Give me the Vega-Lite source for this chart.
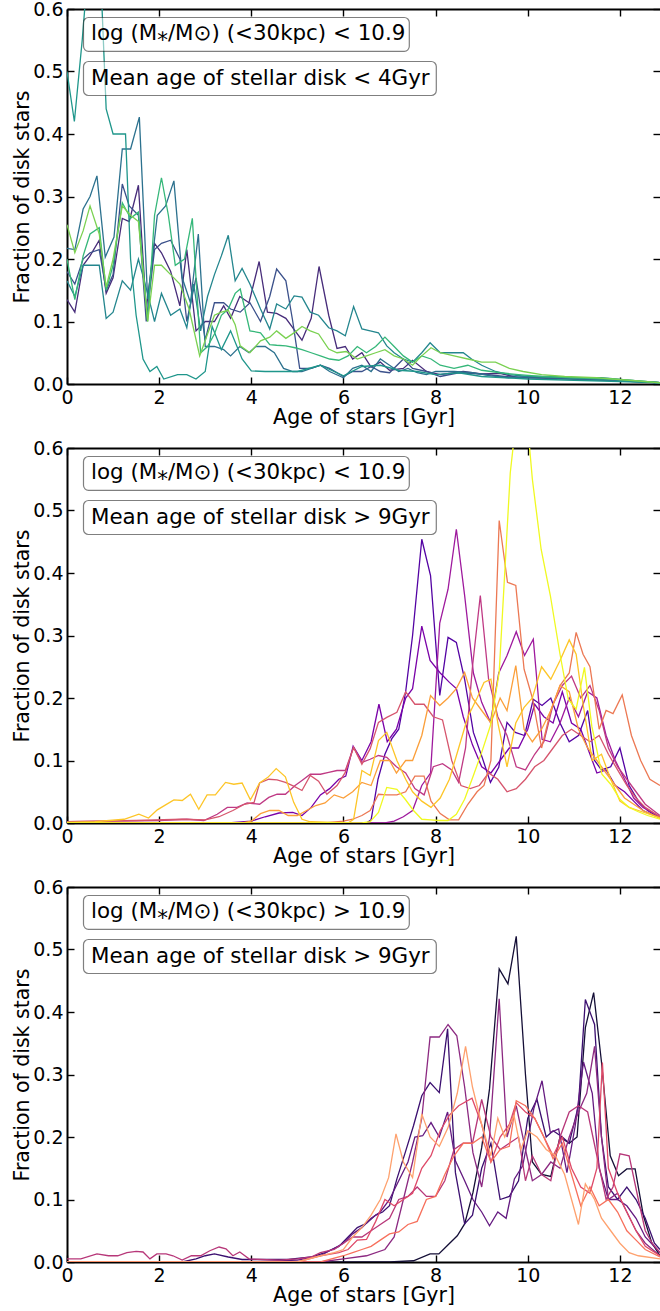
{
"$schema": "https://vega.github.io/schema/vega-lite/v6.json",
"padding": {"left": 12, "top": 0, "right": 0, "bottom": 0},
"spacing": 64,
"bounds": "flush",
"config": {
  "font": "DejaVu Sans",
  "view": {"stroke": null},
  "axis": {"grid": false, "domainColor": "black", "domainWidth": 2, "tickColor": "black", "tickWidth": 1.4, "tickSize": -7, "labelFontSize": 19, "labelColor": "black", "labelFlush": false, "labelOverlap": false, "labelPadding": 11, "titleFontSize": 20.5, "titleFontWeight": "normal", "titleColor": "black"}
},
"resolve": {"scale": {"color": "independent"}},
"datasets": {
"p1": [
{"s":"a","age":0,"frac":0.135},{"s":"a","age":0.17,"frac":0.115},{"s":"a","age":0.35,"frac":0.19},{"s":"a","age":0.5,"frac":0.205},{"s":"a","age":0.7,"frac":0.23},{"s":"a","age":0.85,"frac":0.145},{"s":"a","age":1.0,"frac":0.17},{"s":"a","age":1.2,"frac":0.265},{"s":"a","age":1.35,"frac":0.26},{"s":"a","age":1.55,"frac":0.318},{"s":"a","age":1.72,"frac":0.12},{"s":"a","age":1.9,"frac":0.225},{"s":"a","age":2.05,"frac":0.21},{"s":"a","age":2.25,"frac":0.18},{"s":"a","age":2.45,"frac":0.125},{"s":"a","age":2.6,"frac":0.215},{"s":"a","age":2.8,"frac":0.085},{"s":"a","age":3.0,"frac":0.1},{"s":"a","age":3.2,"frac":0.1},{"s":"a","age":3.4,"frac":0.125},{"s":"a","age":3.55,"frac":0.105},{"s":"a","age":3.75,"frac":0.14},{"s":"a","age":3.95,"frac":0.13},{"s":"a","age":4.17,"frac":0.196},{"s":"a","age":4.35,"frac":0.115},{"s":"a","age":4.55,"frac":0.113},{"s":"a","age":4.75,"frac":0.105},{"s":"a","age":4.95,"frac":0.085},{"s":"a","age":5.1,"frac":0.07},{"s":"a","age":5.3,"frac":0.105},{"s":"a","age":5.47,"frac":0.188},{"s":"a","age":5.68,"frac":0.11},{"s":"a","age":5.86,"frac":0.057},{"s":"a","age":6.04,"frac":0.06},{"s":"a","age":6.2,"frac":0.04},{"s":"a","age":6.4,"frac":0.05},{"s":"a","age":6.6,"frac":0.027},{"s":"a","age":6.8,"frac":0.035},{"s":"a","age":7.0,"frac":0.022},{"s":"a","age":7.3,"frac":0.025},{"s":"a","age":7.5,"frac":0.038},{"s":"a","age":7.8,"frac":0.02},{"s":"a","age":8.1,"frac":0.015},{"s":"a","age":8.6,"frac":0.02},{"s":"a","age":9.0,"frac":0.016},{"s":"a","age":9.4,"frac":0.017},{"s":"a","age":9.8,"frac":0.01},{"s":"a","age":10.4,"frac":0.01},{"s":"a","age":11.2,"frac":0.007},{"s":"a","age":12.0,"frac":0.005},{"s":"a","age":12.87,"frac":0.002},
{"s":"b","age":0,"frac":0.18},{"s":"b","age":0.17,"frac":0.16},{"s":"b","age":0.35,"frac":0.2},{"s":"b","age":0.5,"frac":0.21},{"s":"b","age":0.7,"frac":0.215},{"s":"b","age":0.85,"frac":0.15},{"s":"b","age":1.0,"frac":0.175},{"s":"b","age":1.2,"frac":0.32},{"s":"b","age":1.35,"frac":0.285},{"s":"b","age":1.55,"frac":0.27},{"s":"b","age":1.72,"frac":0.1},{"s":"b","age":1.9,"frac":0.215},{"s":"b","age":2.05,"frac":0.225},{"s":"b","age":2.25,"frac":0.23},{"s":"b","age":2.45,"frac":0.2},{"s":"b","age":2.6,"frac":0.1},{"s":"b","age":2.8,"frac":0.17},{"s":"b","age":3.0,"frac":0.07},{"s":"b","age":3.2,"frac":0.13},{"s":"b","age":3.4,"frac":0.13},{"s":"b","age":3.55,"frac":0.12},{"s":"b","age":3.76,"frac":0.115},{"s":"b","age":3.97,"frac":0.13},{"s":"b","age":4.2,"frac":0.1},{"s":"b","age":4.4,"frac":0.14},{"s":"b","age":4.55,"frac":0.184},{"s":"b","age":4.75,"frac":0.165},{"s":"b","age":4.9,"frac":0.1},{"s":"b","age":5.05,"frac":0.025},{"s":"b","age":5.3,"frac":0.025},{"s":"b","age":5.5,"frac":0.03},{"s":"b","age":5.7,"frac":0.025},{"s":"b","age":6.0,"frac":0.012},{"s":"b","age":6.2,"frac":0.02},{"s":"b","age":6.4,"frac":0.02},{"s":"b","age":6.6,"frac":0.028},{"s":"b","age":6.8,"frac":0.02},{"s":"b","age":7.0,"frac":0.018},{"s":"b","age":7.3,"frac":0.04},{"s":"b","age":7.5,"frac":0.025},{"s":"b","age":7.8,"frac":0.02},{"s":"b","age":8.1,"frac":0.012},{"s":"b","age":8.5,"frac":0.018},{"s":"b","age":9.0,"frac":0.016},{"s":"b","age":9.5,"frac":0.012},{"s":"b","age":10.0,"frac":0.01},{"s":"b","age":11.0,"frac":0.008},{"s":"b","age":12.0,"frac":0.005},{"s":"b","age":12.87,"frac":0.002},
{"s":"c","age":0,"frac":0.217},{"s":"c","age":0.17,"frac":0.215},{"s":"c","age":0.35,"frac":0.28},{"s":"c","age":0.5,"frac":0.3},{"s":"c","age":0.65,"frac":0.333},{"s":"c","age":0.83,"frac":0.203},{"s":"c","age":1.02,"frac":0.235},{"s":"c","age":1.2,"frac":0.376},{"s":"c","age":1.38,"frac":0.376},{"s":"c","age":1.57,"frac":0.427},{"s":"c","age":1.75,"frac":0.136},{"s":"c","age":1.96,"frac":0.27},{"s":"c","age":2.14,"frac":0.285},{"s":"c","age":2.32,"frac":0.325},{"s":"c","age":2.5,"frac":0.17},{"s":"c","age":2.68,"frac":0.13},{"s":"c","age":2.85,"frac":0.24},{"s":"c","age":3.0,"frac":0.06},{"s":"c","age":3.2,"frac":0.06},{"s":"c","age":3.4,"frac":0.055},{"s":"c","age":3.55,"frac":0.045},{"s":"c","age":3.75,"frac":0.06},{"s":"c","age":3.95,"frac":0.05},{"s":"c","age":4.1,"frac":0.06},{"s":"c","age":4.3,"frac":0.06},{"s":"c","age":4.5,"frac":0.05},{"s":"c","age":4.7,"frac":0.025},{"s":"c","age":4.9,"frac":0.02},{"s":"c","age":5.1,"frac":0.02},{"s":"c","age":5.3,"frac":0.025},{"s":"c","age":5.5,"frac":0.03},{"s":"c","age":5.7,"frac":0.02},{"s":"c","age":6.0,"frac":0.01},{"s":"c","age":6.2,"frac":0.025},{"s":"c","age":6.4,"frac":0.03},{"s":"c","age":6.6,"frac":0.02},{"s":"c","age":6.8,"frac":0.04},{"s":"c","age":7.0,"frac":0.03},{"s":"c","age":7.2,"frac":0.02},{"s":"c","age":7.4,"frac":0.025},{"s":"c","age":7.6,"frac":0.018},{"s":"c","age":7.8,"frac":0.015},{"s":"c","age":8.0,"frac":0.02},{"s":"c","age":8.4,"frac":0.02},{"s":"c","age":8.8,"frac":0.018},{"s":"c","age":9.2,"frac":0.013},{"s":"c","age":9.6,"frac":0.01},{"s":"c","age":10.0,"frac":0.012},{"s":"c","age":10.6,"frac":0.01},{"s":"c","age":11.4,"frac":0.008},{"s":"c","age":12.2,"frac":0.005},{"s":"c","age":12.87,"frac":0.002},
{"s":"d","age":0,"frac":0.165},{"s":"d","age":0.17,"frac":0.14},{"s":"d","age":0.35,"frac":0.19},{"s":"d","age":0.5,"frac":0.19},{"s":"d","age":0.7,"frac":0.19},{"s":"d","age":0.85,"frac":0.105},{"s":"d","age":1.0,"frac":0.115},{"s":"d","age":1.2,"frac":0.165},{"s":"d","age":1.38,"frac":0.15},{"s":"d","age":1.55,"frac":0.2},{"s":"d","age":1.75,"frac":0.145},{"s":"d","age":1.9,"frac":0.1},{"s":"d","age":2.05,"frac":0.145},{"s":"d","age":2.25,"frac":0.11},{"s":"d","age":2.45,"frac":0.12},{"s":"d","age":2.6,"frac":0.09},{"s":"d","age":2.75,"frac":0.16},{"s":"d","age":2.9,"frac":0.085},{"s":"d","age":3.05,"frac":0.14},{"s":"d","age":3.2,"frac":0.175},{"s":"d","age":3.35,"frac":0.205},{"s":"d","age":3.5,"frac":0.238},{"s":"d","age":3.65,"frac":0.165},{"s":"d","age":3.8,"frac":0.185},{"s":"d","age":3.97,"frac":0.16},{"s":"d","age":4.2,"frac":0.12},{"s":"d","age":4.4,"frac":0.088},{"s":"d","age":4.55,"frac":0.128},{"s":"d","age":4.75,"frac":0.12},{"s":"d","age":4.93,"frac":0.141},{"s":"d","age":5.1,"frac":0.139},{"s":"d","age":5.28,"frac":0.115},{"s":"d","age":5.46,"frac":0.11},{"s":"d","age":5.68,"frac":0.09},{"s":"d","age":5.86,"frac":0.085},{"s":"d","age":6.04,"frac":0.077},{"s":"d","age":6.22,"frac":0.124},{"s":"d","age":6.4,"frac":0.088},{"s":"d","age":6.58,"frac":0.085},{"s":"d","age":6.76,"frac":0.082},{"s":"d","age":6.94,"frac":0.061},{"s":"d","age":7.1,"frac":0.05},{"s":"d","age":7.3,"frac":0.04},{"s":"d","age":7.5,"frac":0.035},{"s":"d","age":7.7,"frac":0.05},{"s":"d","age":7.88,"frac":0.066},{"s":"d","age":8.1,"frac":0.05},{"s":"d","age":8.4,"frac":0.05},{"s":"d","age":8.6,"frac":0.05},{"s":"d","age":8.78,"frac":0.04},{"s":"d","age":9.0,"frac":0.03},{"s":"d","age":9.3,"frac":0.02},{"s":"d","age":9.6,"frac":0.015},{"s":"d","age":10.0,"frac":0.012},{"s":"d","age":10.5,"frac":0.012},{"s":"d","age":11.0,"frac":0.01},{"s":"d","age":11.6,"frac":0.01},{"s":"d","age":12.2,"frac":0.006},{"s":"d","age":12.87,"frac":0.002},
{"s":"e","age":0,"frac":0.5},{"s":"e","age":0.16,"frac":0.42},{"s":"e","age":0.33,"frac":0.55},{"s":"e","age":0.45,"frac":0.66},{"s":"e","age":0.6,"frac":0.75},{"s":"e","age":0.75,"frac":0.62},{"s":"e","age":0.85,"frac":0.44},{"s":"e","age":1.0,"frac":0.4},{"s":"e","age":1.2,"frac":0.4},{"s":"e","age":1.27,"frac":0.4},{"s":"e","age":1.38,"frac":0.2},{"s":"e","age":1.5,"frac":0.11},{"s":"e","age":1.65,"frac":0.04},{"s":"e","age":1.8,"frac":0.02},{"s":"e","age":1.95,"frac":0.028},{"s":"e","age":2.1,"frac":0.008},{"s":"e","age":2.4,"frac":0.015},{"s":"e","age":2.6,"frac":0.015},{"s":"e","age":2.8,"frac":0.008},{"s":"e","age":3.0,"frac":0.02},{"s":"e","age":3.15,"frac":0.092},{"s":"e","age":3.35,"frac":0.055},{"s":"e","age":3.55,"frac":0.085},{"s":"e","age":3.8,"frac":0.04},{"s":"e","age":4.0,"frac":0.021},{"s":"e","age":4.3,"frac":0.02},{"s":"e","age":4.7,"frac":0.02},{"s":"e","age":5.0,"frac":0.02},{"s":"e","age":5.5,"frac":0.03},{"s":"e","age":6.0,"frac":0.013},{"s":"e","age":6.4,"frac":0.028},{"s":"e","age":6.8,"frac":0.03},{"s":"e","age":7.2,"frac":0.022},{"s":"e","age":7.6,"frac":0.02},{"s":"e","age":8.0,"frac":0.015},{"s":"e","age":8.5,"frac":0.018},{"s":"e","age":9.0,"frac":0.012},{"s":"e","age":10.0,"frac":0.008},{"s":"e","age":11.0,"frac":0.006},{"s":"e","age":12.0,"frac":0.004},{"s":"e","age":12.87,"frac":0.002},
{"s":"f","age":0,"frac":0.2},{"s":"f","age":0.17,"frac":0.135},{"s":"f","age":0.35,"frac":0.205},{"s":"f","age":0.5,"frac":0.24},{"s":"f","age":0.7,"frac":0.25},{"s":"f","age":0.85,"frac":0.15},{"s":"f","age":1.0,"frac":0.19},{"s":"f","age":1.2,"frac":0.29},{"s":"f","age":1.38,"frac":0.265},{"s":"f","age":1.55,"frac":0.275},{"s":"f","age":1.75,"frac":0.1},{"s":"f","age":1.9,"frac":0.27},{"s":"f","age":2.05,"frac":0.33},{"s":"f","age":2.2,"frac":0.27},{"s":"f","age":2.35,"frac":0.19},{"s":"f","age":2.55,"frac":0.2},{"s":"f","age":2.72,"frac":0.265},{"s":"f","age":2.9,"frac":0.05},{"s":"f","age":3.05,"frac":0.06},{"s":"f","age":3.2,"frac":0.08},{"s":"f","age":3.35,"frac":0.11},{"s":"f","age":3.5,"frac":0.12},{"s":"f","age":3.65,"frac":0.145},{"s":"f","age":3.76,"frac":0.152},{"s":"f","age":3.97,"frac":0.085},{"s":"f","age":4.2,"frac":0.082},{"s":"f","age":4.4,"frac":0.063},{"s":"f","age":4.55,"frac":0.062},{"s":"f","age":4.75,"frac":0.061},{"s":"f","age":4.95,"frac":0.058},{"s":"f","age":5.1,"frac":0.055},{"s":"f","age":5.3,"frac":0.05},{"s":"f","age":5.5,"frac":0.045},{"s":"f","age":5.7,"frac":0.04},{"s":"f","age":5.9,"frac":0.038},{"s":"f","age":6.1,"frac":0.045},{"s":"f","age":6.3,"frac":0.06},{"s":"f","age":6.5,"frac":0.05},{"s":"f","age":6.7,"frac":0.06},{"s":"f","age":6.9,"frac":0.075},{"s":"f","age":7.1,"frac":0.06},{"s":"f","age":7.3,"frac":0.045},{"s":"f","age":7.5,"frac":0.035},{"s":"f","age":7.7,"frac":0.045},{"s":"f","age":7.9,"frac":0.04},{"s":"f","age":8.1,"frac":0.03},{"s":"f","age":8.4,"frac":0.025},{"s":"f","age":8.7,"frac":0.03},{"s":"f","age":9.0,"frac":0.022},{"s":"f","age":9.4,"frac":0.018},{"s":"f","age":9.8,"frac":0.015},{"s":"f","age":10.3,"frac":0.012},{"s":"f","age":11.0,"frac":0.01},{"s":"f","age":11.8,"frac":0.008},{"s":"f","age":12.4,"frac":0.005},{"s":"f","age":12.87,"frac":0.002},
{"s":"g","age":0,"frac":0.255},{"s":"g","age":0.17,"frac":0.21},{"s":"g","age":0.35,"frac":0.245},{"s":"g","age":0.5,"frac":0.285},{"s":"g","age":0.7,"frac":0.24},{"s":"g","age":0.85,"frac":0.155},{"s":"g","age":1.0,"frac":0.2},{"s":"g","age":1.2,"frac":0.285},{"s":"g","age":1.38,"frac":0.27},{"s":"g","age":1.55,"frac":0.26},{"s":"g","age":1.75,"frac":0.1},{"s":"g","age":1.9,"frac":0.19},{"s":"g","age":2.05,"frac":0.19},{"s":"g","age":2.25,"frac":0.175},{"s":"g","age":2.45,"frac":0.16},{"s":"g","age":2.65,"frac":0.12},{"s":"g","age":2.88,"frac":0.045},{"s":"g","age":3.05,"frac":0.08},{"s":"g","age":3.2,"frac":0.11},{"s":"g","age":3.35,"frac":0.115},{"s":"g","age":3.5,"frac":0.118},{"s":"g","age":3.65,"frac":0.095},{"s":"g","age":3.76,"frac":0.061},{"s":"g","age":3.97,"frac":0.05},{"s":"g","age":4.2,"frac":0.069},{"s":"g","age":4.4,"frac":0.075},{"s":"g","age":4.55,"frac":0.085},{"s":"g","age":4.75,"frac":0.073},{"s":"g","age":4.95,"frac":0.083},{"s":"g","age":5.1,"frac":0.092},{"s":"g","age":5.28,"frac":0.085},{"s":"g","age":5.46,"frac":0.08},{"s":"g","age":5.68,"frac":0.056},{"s":"g","age":5.86,"frac":0.05},{"s":"g","age":6.06,"frac":0.052},{"s":"g","age":6.3,"frac":0.04},{"s":"g","age":6.5,"frac":0.045},{"s":"g","age":6.7,"frac":0.05},{"s":"g","age":6.9,"frac":0.055},{"s":"g","age":7.1,"frac":0.045},{"s":"g","age":7.3,"frac":0.04},{"s":"g","age":7.5,"frac":0.03},{"s":"g","age":7.7,"frac":0.045},{"s":"g","age":7.9,"frac":0.058},{"s":"g","age":8.1,"frac":0.05},{"s":"g","age":8.4,"frac":0.045},{"s":"g","age":8.7,"frac":0.04},{"s":"g","age":9.0,"frac":0.035},{"s":"g","age":9.3,"frac":0.035},{"s":"g","age":9.6,"frac":0.025},{"s":"g","age":9.9,"frac":0.02},{"s":"g","age":10.3,"frac":0.015},{"s":"g","age":10.8,"frac":0.012},{"s":"g","age":11.5,"frac":0.01},{"s":"g","age":12.2,"frac":0.006},{"s":"g","age":12.87,"frac":0.002}
],
"p2": [
{"s":"h","age":0,"frac":0},{"s":"h","age":6.5,"frac":0},{"s":"h","age":6.6,"frac":0.005},{"s":"h","age":6.75,"frac":0.07},{"s":"h","age":6.9,"frac":0.11},{"s":"h","age":7.05,"frac":0.135},{"s":"h","age":7.2,"frac":0.15},{"s":"h","age":7.35,"frac":0.21},{"s":"h","age":7.5,"frac":0.3},{"s":"h","age":7.7,"frac":0.454},{"s":"h","age":7.89,"frac":0.396},{"s":"h","age":8.09,"frac":0.204},{"s":"h","age":8.27,"frac":0.297},{"s":"h","age":8.45,"frac":0.289},{"s":"h","age":8.63,"frac":0.23},{"s":"h","age":8.82,"frac":0.145},{"s":"h","age":9.01,"frac":0.105},{"s":"h","age":9.19,"frac":0.065},{"s":"h","age":9.37,"frac":0.089},{"s":"h","age":9.55,"frac":0.161},{"s":"h","age":9.73,"frac":0.145},{"s":"h","age":9.93,"frac":0.14},{"s":"h","age":10.12,"frac":0.198},{"s":"h","age":10.31,"frac":0.188},{"s":"h","age":10.5,"frac":0.2},{"s":"h","age":10.7,"frac":0.16},{"s":"h","age":10.9,"frac":0.13},{"s":"h","age":11.1,"frac":0.14},{"s":"h","age":11.3,"frac":0.18},{"s":"h","age":11.45,"frac":0.1},{"s":"h","age":11.6,"frac":0.085},{"s":"h","age":11.8,"frac":0.09},{"s":"h","age":12.0,"frac":0.12},{"s":"h","age":12.2,"frac":0.06},{"s":"h","age":12.4,"frac":0.035},{"s":"h","age":12.6,"frac":0.02},{"s":"h","age":12.87,"frac":0.008},
{"s":"i","age":0,"frac":0},{"s":"i","age":3.5,"frac":0},{"s":"i","age":4.0,"frac":0.003},{"s":"i","age":4.3,"frac":0.01},{"s":"i","age":4.6,"frac":0.016},{"s":"i","age":4.9,"frac":0.017},{"s":"i","age":5.1,"frac":0.012},{"s":"i","age":5.3,"frac":0.025},{"s":"i","age":5.5,"frac":0.045},{"s":"i","age":5.7,"frac":0.055},{"s":"i","age":5.9,"frac":0.07},{"s":"i","age":6.05,"frac":0.075},{"s":"i","age":6.21,"frac":0.123},{"s":"i","age":6.4,"frac":0.1},{"s":"i","age":6.6,"frac":0.13},{"s":"i","age":6.77,"frac":0.19},{"s":"i","age":6.95,"frac":0.13},{"s":"i","age":7.15,"frac":0.15},{"s":"i","age":7.35,"frac":0.2},{"s":"i","age":7.5,"frac":0.215},{"s":"i","age":7.7,"frac":0.315},{"s":"i","age":7.88,"frac":0.26},{"s":"i","age":8.1,"frac":0.24},{"s":"i","age":8.3,"frac":0.225},{"s":"i","age":8.45,"frac":0.215},{"s":"i","age":8.6,"frac":0.17},{"s":"i","age":8.8,"frac":0.125},{"s":"i","age":9.0,"frac":0.09},{"s":"i","age":9.2,"frac":0.08},{"s":"i","age":9.4,"frac":0.1},{"s":"i","age":9.6,"frac":0.12},{"s":"i","age":9.8,"frac":0.12},{"s":"i","age":10.0,"frac":0.15},{"s":"i","age":10.15,"frac":0.19},{"s":"i","age":10.35,"frac":0.17},{"s":"i","age":10.55,"frac":0.16},{"s":"i","age":10.75,"frac":0.21},{"s":"i","age":10.95,"frac":0.16},{"s":"i","age":11.15,"frac":0.15},{"s":"i","age":11.35,"frac":0.11},{"s":"i","age":11.5,"frac":0.08},{"s":"i","age":11.7,"frac":0.085},{"s":"i","age":11.9,"frac":0.06},{"s":"i","age":12.1,"frac":0.05},{"s":"i","age":12.3,"frac":0.035},{"s":"i","age":12.5,"frac":0.02},{"s":"i","age":12.87,"frac":0.008},
{"s":"j","age":0,"frac":0},{"s":"j","age":6.9,"frac":0},{"s":"j","age":7.1,"frac":0.003},{"s":"j","age":7.3,"frac":0.01},{"s":"j","age":7.5,"frac":0.02},{"s":"j","age":7.7,"frac":0.06},{"s":"j","age":7.89,"frac":0.08},{"s":"j","age":8.09,"frac":0.32},{"s":"j","age":8.27,"frac":0.374},{"s":"j","age":8.45,"frac":0.47},{"s":"j","age":8.63,"frac":0.364},{"s":"j","age":8.82,"frac":0.24},{"s":"j","age":9.0,"frac":0.193},{"s":"j","age":9.19,"frac":0.161},{"s":"j","age":9.37,"frac":0.24},{"s":"j","age":9.55,"frac":0.268},{"s":"j","age":9.75,"frac":0.306},{"s":"j","age":9.93,"frac":0.268},{"s":"j","age":10.12,"frac":0.294},{"s":"j","age":10.31,"frac":0.134},{"s":"j","age":10.49,"frac":0.13},{"s":"j","age":10.7,"frac":0.16},{"s":"j","age":10.9,"frac":0.2},{"s":"j","age":11.1,"frac":0.17},{"s":"j","age":11.3,"frac":0.21},{"s":"j","age":11.5,"frac":0.2},{"s":"j","age":11.7,"frac":0.14},{"s":"j","age":11.9,"frac":0.1},{"s":"j","age":12.1,"frac":0.07},{"s":"j","age":12.3,"frac":0.04},{"s":"j","age":12.5,"frac":0.025},{"s":"j","age":12.87,"frac":0.01},
{"s":"k","age":0,"frac":0.002},{"s":"k","age":1.0,"frac":0.003},{"s":"k","age":2.0,"frac":0.004},{"s":"k","age":2.6,"frac":0.006},{"s":"k","age":2.97,"frac":0.004},{"s":"k","age":3.26,"frac":0.014},{"s":"k","age":3.48,"frac":0.025},{"s":"k","age":3.69,"frac":0.025},{"s":"k","age":3.91,"frac":0.032},{"s":"k","age":4.18,"frac":0.03},{"s":"k","age":4.38,"frac":0.041},{"s":"k","age":4.56,"frac":0.046},{"s":"k","age":4.74,"frac":0.046},{"s":"k","age":4.95,"frac":0.06},{"s":"k","age":5.1,"frac":0.068},{"s":"k","age":5.28,"frac":0.078},{"s":"k","age":5.5,"frac":0.078},{"s":"k","age":5.68,"frac":0.081},{"s":"k","age":5.86,"frac":0.084},{"s":"k","age":6.04,"frac":0.084},{"s":"k","age":6.22,"frac":0.121},{"s":"k","age":6.4,"frac":0.097},{"s":"k","age":6.58,"frac":0.102},{"s":"k","age":6.76,"frac":0.108},{"s":"k","age":6.94,"frac":0.105},{"s":"k","age":7.15,"frac":0.09},{"s":"k","age":7.35,"frac":0.08},{"s":"k","age":7.55,"frac":0.055},{"s":"k","age":7.75,"frac":0.045},{"s":"k","age":7.95,"frac":0.09},{"s":"k","age":8.15,"frac":0.095},{"s":"k","age":8.35,"frac":0.085},{"s":"k","age":8.5,"frac":0.065},{"s":"k","age":8.65,"frac":0.12},{"s":"k","age":8.8,"frac":0.25},{"s":"k","age":8.97,"frac":0.364},{"s":"k","age":9.15,"frac":0.23},{"s":"k","age":9.35,"frac":0.17},{"s":"k","age":9.55,"frac":0.14},{"s":"k","age":9.75,"frac":0.09},{"s":"k","age":9.95,"frac":0.085},{"s":"k","age":10.15,"frac":0.11},{"s":"k","age":10.35,"frac":0.13},{"s":"k","age":10.55,"frac":0.19},{"s":"k","age":10.75,"frac":0.22},{"s":"k","age":10.95,"frac":0.235},{"s":"k","age":11.15,"frac":0.2},{"s":"k","age":11.35,"frac":0.22},{"s":"k","age":11.55,"frac":0.18},{"s":"k","age":11.75,"frac":0.12},{"s":"k","age":11.95,"frac":0.09},{"s":"k","age":12.15,"frac":0.07},{"s":"k","age":12.35,"frac":0.05},{"s":"k","age":12.55,"frac":0.03},{"s":"k","age":12.87,"frac":0.012},
{"s":"l","age":0,"frac":0.002},{"s":"l","age":1.5,"frac":0.004},{"s":"l","age":2.5,"frac":0.006},{"s":"l","age":3.0,"frac":0.005},{"s":"l","age":3.3,"frac":0.01},{"s":"l","age":3.6,"frac":0.02},{"s":"l","age":3.85,"frac":0.03},{"s":"l","age":4.06,"frac":0.033},{"s":"l","age":4.18,"frac":0.064},{"s":"l","age":4.38,"frac":0.07},{"s":"l","age":4.56,"frac":0.069},{"s":"l","age":4.74,"frac":0.065},{"s":"l","age":4.92,"frac":0.059},{"s":"l","age":5.1,"frac":0.052},{"s":"l","age":5.28,"frac":0.076},{"s":"l","age":5.46,"frac":0.067},{"s":"l","age":5.64,"frac":0.046},{"s":"l","age":5.86,"frac":0.06},{"s":"l","age":6.04,"frac":0.081},{"s":"l","age":6.22,"frac":0.121},{"s":"l","age":6.4,"frac":0.094},{"s":"l","age":6.58,"frac":0.119},{"s":"l","age":6.76,"frac":0.161},{"s":"l","age":6.94,"frac":0.169},{"s":"l","age":7.16,"frac":0.177},{"s":"l","age":7.35,"frac":0.21},{"s":"l","age":7.55,"frac":0.19},{"s":"l","age":7.75,"frac":0.19},{"s":"l","age":7.95,"frac":0.17},{"s":"l","age":8.15,"frac":0.165},{"s":"l","age":8.35,"frac":0.1},{"s":"l","age":8.55,"frac":0.06},{"s":"l","age":8.75,"frac":0.055},{"s":"l","age":8.95,"frac":0.06},{"s":"l","age":9.15,"frac":0.08},{"s":"l","age":9.35,"frac":0.07},{"s":"l","age":9.55,"frac":0.05},{"s":"l","age":9.75,"frac":0.055},{"s":"l","age":9.95,"frac":0.07},{"s":"l","age":10.15,"frac":0.09},{"s":"l","age":10.35,"frac":0.1},{"s":"l","age":10.55,"frac":0.12},{"s":"l","age":10.75,"frac":0.14},{"s":"l","age":10.95,"frac":0.15},{"s":"l","age":11.15,"frac":0.14},{"s":"l","age":11.35,"frac":0.13},{"s":"l","age":11.55,"frac":0.14},{"s":"l","age":11.75,"frac":0.11},{"s":"l","age":11.95,"frac":0.085},{"s":"l","age":12.15,"frac":0.06},{"s":"l","age":12.35,"frac":0.04},{"s":"l","age":12.55,"frac":0.025},{"s":"l","age":12.87,"frac":0.01},
{"s":"m","age":0,"frac":0},{"s":"m","age":5.6,"frac":0},{"s":"m","age":6.0,"frac":0.003},{"s":"m","age":6.2,"frac":0.006},{"s":"m","age":6.4,"frac":0.012},{"s":"m","age":6.58,"frac":0.02},{"s":"m","age":6.76,"frac":0.046},{"s":"m","age":6.94,"frac":0.045},{"s":"m","age":7.16,"frac":0.045},{"s":"m","age":7.35,"frac":0.05},{"s":"m","age":7.55,"frac":0.075},{"s":"m","age":7.75,"frac":0.075},{"s":"m","age":7.9,"frac":0.035},{"s":"m","age":8.1,"frac":0.015},{"s":"m","age":8.3,"frac":0.005},{"s":"m","age":8.5,"frac":0.005},{"s":"m","age":8.7,"frac":0.03},{"s":"m","age":8.9,"frac":0.05},{"s":"m","age":9.05,"frac":0.06},{"s":"m","age":9.2,"frac":0.1},{"s":"m","age":9.38,"frac":0.484},{"s":"m","age":9.56,"frac":0.385},{"s":"m","age":9.74,"frac":0.38},{"s":"m","age":9.92,"frac":0.246},{"s":"m","age":10.1,"frac":0.2},{"s":"m","age":10.3,"frac":0.12},{"s":"m","age":10.5,"frac":0.18},{"s":"m","age":10.7,"frac":0.22},{"s":"m","age":10.9,"frac":0.24},{"s":"m","age":11.05,"frac":0.305},{"s":"m","age":11.2,"frac":0.27},{"s":"m","age":11.35,"frac":0.25},{"s":"m","age":11.55,"frac":0.15},{"s":"m","age":11.7,"frac":0.18},{"s":"m","age":11.85,"frac":0.175},{"s":"m","age":12.05,"frac":0.205},{"s":"m","age":12.25,"frac":0.14},{"s":"m","age":12.45,"frac":0.1},{"s":"m","age":12.65,"frac":0.07},{"s":"m","age":12.87,"frac":0.06},
{"s":"n","age":0,"frac":0},{"s":"n","age":3.8,"frac":0},{"s":"n","age":4.0,"frac":0.003},{"s":"n","age":4.2,"frac":0.015},{"s":"n","age":4.4,"frac":0.02},{"s":"n","age":4.6,"frac":0.02},{"s":"n","age":4.8,"frac":0.012},{"s":"n","age":5.0,"frac":0.012},{"s":"n","age":5.2,"frac":0.02},{"s":"n","age":5.4,"frac":0.028},{"s":"n","age":5.6,"frac":0.032},{"s":"n","age":5.8,"frac":0.045},{"s":"n","age":6.0,"frac":0.04},{"s":"n","age":6.2,"frac":0.05},{"s":"n","age":6.4,"frac":0.065},{"s":"n","age":6.6,"frac":0.06},{"s":"n","age":6.8,"frac":0.1},{"s":"n","age":7.0,"frac":0.1},{"s":"n","age":7.15,"frac":0.08},{"s":"n","age":7.35,"frac":0.1},{"s":"n","age":7.5,"frac":0.1},{"s":"n","age":7.7,"frac":0.14},{"s":"n","age":7.89,"frac":0.204},{"s":"n","age":8.09,"frac":0.188},{"s":"n","age":8.27,"frac":0.2},{"s":"n","age":8.45,"frac":0.215},{"s":"n","age":8.63,"frac":0.241},{"s":"n","age":8.8,"frac":0.2},{"s":"n","age":9.0,"frac":0.18},{"s":"n","age":9.2,"frac":0.16},{"s":"n","age":9.4,"frac":0.2},{"s":"n","age":9.55,"frac":0.18},{"s":"n","age":9.74,"frac":0.252},{"s":"n","age":9.92,"frac":0.15},{"s":"n","age":10.1,"frac":0.13},{"s":"n","age":10.3,"frac":0.15},{"s":"n","age":10.5,"frac":0.18},{"s":"n","age":10.7,"frac":0.22},{"s":"n","age":10.9,"frac":0.21},{"s":"n","age":11.1,"frac":0.15},{"s":"n","age":11.3,"frac":0.12},{"s":"n","age":11.5,"frac":0.1},{"s":"n","age":11.7,"frac":0.08},{"s":"n","age":11.9,"frac":0.06},{"s":"n","age":12.1,"frac":0.04},{"s":"n","age":12.3,"frac":0.03},{"s":"n","age":12.5,"frac":0.02},{"s":"n","age":12.87,"frac":0.008},
{"s":"o","age":0,"frac":0.001},{"s":"o","age":0.6,"frac":0.002},{"s":"o","age":1.24,"frac":0.006},{"s":"o","age":1.56,"frac":0.014},{"s":"o","age":1.77,"frac":0.008},{"s":"o","age":1.96,"frac":0.021},{"s":"o","age":2.14,"frac":0.029},{"s":"o","age":2.32,"frac":0.037},{"s":"o","age":2.5,"frac":0.036},{"s":"o","age":2.68,"frac":0.046},{"s":"o","age":2.86,"frac":0.022},{"s":"o","age":3.04,"frac":0.045},{"s":"o","age":3.22,"frac":0.045},{"s":"o","age":3.44,"frac":0.065},{"s":"o","age":3.62,"frac":0.062},{"s":"o","age":3.8,"frac":0.064},{"s":"o","age":3.98,"frac":0.037},{"s":"o","age":4.18,"frac":0.064},{"s":"o","age":4.36,"frac":0.073},{"s":"o","age":4.54,"frac":0.087},{"s":"o","age":4.74,"frac":0.074},{"s":"o","age":4.92,"frac":0.033},{"s":"o","age":5.1,"frac":0.006},{"s":"o","age":5.28,"frac":0.002},{"s":"o","age":6.1,"frac":0},{"s":"o","age":6.22,"frac":0.006},{"s":"o","age":6.4,"frac":0.084},{"s":"o","age":6.58,"frac":0.076},{"s":"o","age":6.76,"frac":0.132},{"s":"o","age":6.94,"frac":0.145},{"s":"o","age":7.16,"frac":0.1},{"s":"o","age":7.35,"frac":0.07},{"s":"o","age":7.5,"frac":0.05},{"s":"o","age":7.7,"frac":0.035},{"s":"o","age":7.9,"frac":0.025},{"s":"o","age":8.1,"frac":0.04},{"s":"o","age":8.3,"frac":0.07},{"s":"o","age":8.5,"frac":0.12},{"s":"o","age":8.7,"frac":0.17},{"s":"o","age":8.9,"frac":0.2},{"s":"o","age":9.05,"frac":0.225},{"s":"o","age":9.2,"frac":0.23},{"s":"o","age":9.35,"frac":0.16},{"s":"o","age":9.55,"frac":0.09},{"s":"o","age":9.74,"frac":0.16},{"s":"o","age":9.92,"frac":0.185},{"s":"o","age":10.1,"frac":0.2},{"s":"o","age":10.3,"frac":0.25},{"s":"o","age":10.5,"frac":0.23},{"s":"o","age":10.7,"frac":0.26},{"s":"o","age":10.9,"frac":0.293},{"s":"o","age":11.05,"frac":0.27},{"s":"o","age":11.2,"frac":0.19},{"s":"o","age":11.4,"frac":0.1},{"s":"o","age":11.6,"frac":0.11},{"s":"o","age":11.8,"frac":0.07},{"s":"o","age":12.0,"frac":0.035},{"s":"o","age":12.2,"frac":0.025},{"s":"o","age":12.4,"frac":0.02},{"s":"o","age":12.87,"frac":0.008},
{"s":"p","age":0,"frac":0},{"s":"p","age":6.4,"frac":0},{"s":"p","age":6.58,"frac":0.002},{"s":"p","age":6.76,"frac":0.017},{"s":"p","age":6.94,"frac":0.057},{"s":"p","age":7.16,"frac":0.054},{"s":"p","age":7.34,"frac":0.038},{"s":"p","age":7.52,"frac":0.02},{"s":"p","age":7.7,"frac":0.006},{"s":"p","age":7.89,"frac":0.005},{"s":"p","age":8.09,"frac":0.004},{"s":"p","age":8.27,"frac":0.004},{"s":"p","age":8.45,"frac":0.014},{"s":"p","age":8.63,"frac":0.038},{"s":"p","age":8.82,"frac":0.076},{"s":"p","age":9.0,"frac":0.113},{"s":"p","age":9.19,"frac":0.156},{"s":"p","age":9.38,"frac":0.241},{"s":"p","age":9.5,"frac":0.4},{"s":"p","age":9.62,"frac":0.56},{"s":"p","age":9.8,"frac":0.68},{"s":"p","age":9.98,"frac":0.65},{"s":"p","age":10.1,"frac":0.55},{"s":"p","age":10.29,"frac":0.438},{"s":"p","age":10.49,"frac":0.364},{"s":"p","age":10.7,"frac":0.27},{"s":"p","age":10.88,"frac":0.198},{"s":"p","age":11.05,"frac":0.182},{"s":"p","age":11.23,"frac":0.249},{"s":"p","age":11.39,"frac":0.155},{"s":"p","age":11.61,"frac":0.078},{"s":"p","age":11.8,"frac":0.062},{"s":"p","age":12.0,"frac":0.038},{"s":"p","age":12.2,"frac":0.025},{"s":"p","age":12.4,"frac":0.018},{"s":"p","age":12.6,"frac":0.012},{"s":"p","age":12.87,"frac":0.006}
],
"p3": [
{"s":"q","age":0,"frac":0},{"s":"q","age":7.0,"frac":0},{"s":"q","age":7.52,"frac":0.002},{"s":"q","age":7.88,"frac":0.013},{"s":"q","age":8.07,"frac":0.013},{"s":"q","age":8.25,"frac":0.026},{"s":"q","age":8.47,"frac":0.042},{"s":"q","age":8.63,"frac":0.061},{"s":"q","age":8.81,"frac":0.111},{"s":"q","age":9.0,"frac":0.183},{"s":"q","age":9.17,"frac":0.277},{"s":"q","age":9.38,"frac":0.469},{"s":"q","age":9.57,"frac":0.445},{"s":"q","age":9.75,"frac":0.521},{"s":"q","age":9.95,"frac":0.3},{"s":"q","age":10.1,"frac":0.16},{"s":"q","age":10.3,"frac":0.14},{"s":"q","age":10.5,"frac":0.137},{"s":"q","age":10.7,"frac":0.2},{"s":"q","age":10.9,"frac":0.19},{"s":"q","age":11.07,"frac":0.2},{"s":"q","age":11.25,"frac":0.375},{"s":"q","age":11.43,"frac":0.431},{"s":"q","age":11.6,"frac":0.32},{"s":"q","age":11.79,"frac":0.17},{"s":"q","age":11.97,"frac":0.138},{"s":"q","age":12.15,"frac":0.149},{"s":"q","age":12.33,"frac":0.149},{"s":"q","age":12.51,"frac":0.074},{"s":"q","age":12.69,"frac":0.031},{"s":"q","age":12.87,"frac":0.01},
{"s":"r","age":0,"frac":0},{"s":"r","age":2.5,"frac":0},{"s":"r","age":2.8,"frac":0.005},{"s":"r","age":3.0,"frac":0.01},{"s":"r","age":3.2,"frac":0.013},{"s":"r","age":3.5,"frac":0.008},{"s":"r","age":3.8,"frac":0.004},{"s":"r","age":4.2,"frac":0.004},{"s":"r","age":4.8,"frac":0.004},{"s":"r","age":5.3,"frac":0.008},{"s":"r","age":5.6,"frac":0.015},{"s":"r","age":5.9,"frac":0.025},{"s":"r","age":6.1,"frac":0.04},{"s":"r","age":6.3,"frac":0.055},{"s":"r","age":6.5,"frac":0.062},{"s":"r","age":6.7,"frac":0.075},{"s":"r","age":6.85,"frac":0.08},{"s":"r","age":7.0,"frac":0.09},{"s":"r","age":7.16,"frac":0.133},{"s":"r","age":7.34,"frac":0.175},{"s":"r","age":7.52,"frac":0.218},{"s":"r","age":7.7,"frac":0.266},{"s":"r","age":7.88,"frac":0.287},{"s":"r","age":8.08,"frac":0.271},{"s":"r","age":8.26,"frac":0.373},{"s":"r","age":8.43,"frac":0.143},{"s":"r","age":8.63,"frac":0.061},{"s":"r","age":8.8,"frac":0.075},{"s":"r","age":9.0,"frac":0.15},{"s":"r","age":9.2,"frac":0.19},{"s":"r","age":9.4,"frac":0.1},{"s":"r","age":9.6,"frac":0.105},{"s":"r","age":9.8,"frac":0.13},{"s":"r","age":10.0,"frac":0.23},{"s":"r","age":10.2,"frac":0.26},{"s":"r","age":10.4,"frac":0.2},{"s":"r","age":10.55,"frac":0.21},{"s":"r","age":10.75,"frac":0.2},{"s":"r","age":10.9,"frac":0.19},{"s":"r","age":11.1,"frac":0.25},{"s":"r","age":11.25,"frac":0.42},{"s":"r","age":11.45,"frac":0.38},{"s":"r","age":11.6,"frac":0.2},{"s":"r","age":11.75,"frac":0.12},{"s":"r","age":11.95,"frac":0.1},{"s":"r","age":12.15,"frac":0.12},{"s":"r","age":12.35,"frac":0.1},{"s":"r","age":12.55,"frac":0.07},{"s":"r","age":12.75,"frac":0.03},{"s":"r","age":12.87,"frac":0.02},
{"s":"s","age":0,"frac":0},{"s":"s","age":4.0,"frac":0},{"s":"s","age":5.0,"frac":0.003},{"s":"s","age":5.5,"frac":0.01},{"s":"s","age":6.0,"frac":0.03},{"s":"s","age":6.2,"frac":0.045},{"s":"s","age":6.4,"frac":0.055},{"s":"s","age":6.6,"frac":0.07},{"s":"s","age":6.8,"frac":0.08},{"s":"s","age":7.0,"frac":0.1},{"s":"s","age":7.2,"frac":0.13},{"s":"s","age":7.4,"frac":0.16},{"s":"s","age":7.55,"frac":0.2},{"s":"s","age":7.72,"frac":0.202},{"s":"s","age":7.9,"frac":0.223},{"s":"s","age":8.08,"frac":0.2},{"s":"s","age":8.26,"frac":0.24},{"s":"s","age":8.43,"frac":0.162},{"s":"s","age":8.63,"frac":0.13},{"s":"s","age":8.81,"frac":0.1},{"s":"s","age":9.0,"frac":0.08},{"s":"s","age":9.17,"frac":0.058},{"s":"s","age":9.35,"frac":0.08},{"s":"s","age":9.53,"frac":0.07},{"s":"s","age":9.71,"frac":0.133},{"s":"s","age":9.89,"frac":0.154},{"s":"s","age":10.13,"frac":0.245},{"s":"s","age":10.31,"frac":0.29},{"s":"s","age":10.49,"frac":0.207},{"s":"s","age":10.67,"frac":0.213},{"s":"s","age":10.85,"frac":0.143},{"s":"s","age":11.03,"frac":0.218},{"s":"s","age":11.21,"frac":0.32},{"s":"s","age":11.4,"frac":0.27},{"s":"s","age":11.55,"frac":0.15},{"s":"s","age":11.75,"frac":0.1},{"s":"s","age":11.95,"frac":0.1},{"s":"s","age":12.15,"frac":0.09},{"s":"s","age":12.35,"frac":0.07},{"s":"s","age":12.55,"frac":0.04},{"s":"s","age":12.87,"frac":0.015},
{"s":"t","age":0,"frac":0},{"s":"t","age":5.5,"frac":0},{"s":"t","age":6.0,"frac":0.005},{"s":"t","age":6.5,"frac":0.01},{"s":"t","age":6.9,"frac":0.02},{"s":"t","age":7.1,"frac":0.04},{"s":"t","age":7.3,"frac":0.1},{"s":"t","age":7.5,"frac":0.16},{"s":"t","age":7.7,"frac":0.23},{"s":"t","age":7.88,"frac":0.36},{"s":"t","age":8.08,"frac":0.36},{"s":"t","age":8.27,"frac":0.38},{"s":"t","age":8.46,"frac":0.362},{"s":"t","age":8.63,"frac":0.28},{"s":"t","age":8.81,"frac":0.175},{"s":"t","age":9.0,"frac":0.12},{"s":"t","age":9.17,"frac":0.2},{"s":"t","age":9.38,"frac":0.421},{"s":"t","age":9.55,"frac":0.2},{"s":"t","age":9.75,"frac":0.25},{"s":"t","age":9.95,"frac":0.18},{"s":"t","age":10.1,"frac":0.13},{"s":"t","age":10.3,"frac":0.14},{"s":"t","age":10.5,"frac":0.16},{"s":"t","age":10.7,"frac":0.15},{"s":"t","age":10.9,"frac":0.2},{"s":"t","age":11.1,"frac":0.24},{"s":"t","age":11.28,"frac":0.27},{"s":"t","age":11.45,"frac":0.345},{"s":"t","age":11.6,"frac":0.2},{"s":"t","age":11.75,"frac":0.1},{"s":"t","age":11.95,"frac":0.11},{"s":"t","age":12.15,"frac":0.08},{"s":"t","age":12.35,"frac":0.05},{"s":"t","age":12.55,"frac":0.03},{"s":"t","age":12.87,"frac":0.01},
{"s":"u","age":0,"frac":0.005},{"s":"u","age":0.3,"frac":0.005},{"s":"u","age":0.65,"frac":0.013},{"s":"u","age":0.9,"frac":0.01},{"s":"u","age":1.1,"frac":0.01},{"s":"u","age":1.3,"frac":0.015},{"s":"u","age":1.5,"frac":0.017},{"s":"u","age":1.65,"frac":0.016},{"s":"u","age":1.8,"frac":0.005},{"s":"u","age":1.95,"frac":0.013},{"s":"u","age":2.15,"frac":0.013},{"s":"u","age":2.3,"frac":0.01},{"s":"u","age":2.5,"frac":0.003},{"s":"u","age":2.7,"frac":0.01},{"s":"u","age":2.9,"frac":0.01},{"s":"u","age":3.1,"frac":0.018},{"s":"u","age":3.3,"frac":0.024},{"s":"u","age":3.45,"frac":0.021},{"s":"u","age":3.6,"frac":0.01},{"s":"u","age":3.75,"frac":0.016},{"s":"u","age":3.95,"frac":0.005},{"s":"u","age":4.2,"frac":0.004},{"s":"u","age":4.6,"frac":0.003},{"s":"u","age":5.0,"frac":0.005},{"s":"u","age":5.3,"frac":0.008},{"s":"u","age":5.5,"frac":0.015},{"s":"u","age":5.8,"frac":0.02},{"s":"u","age":6.0,"frac":0.03},{"s":"u","age":6.2,"frac":0.04},{"s":"u","age":6.4,"frac":0.04},{"s":"u","age":6.6,"frac":0.05},{"s":"u","age":6.8,"frac":0.06},{"s":"u","age":7.0,"frac":0.07},{"s":"u","age":7.2,"frac":0.1},{"s":"u","age":7.4,"frac":0.105},{"s":"u","age":7.6,"frac":0.12},{"s":"u","age":7.8,"frac":0.105},{"s":"u","age":8.0,"frac":0.105},{"s":"u","age":8.2,"frac":0.13},{"s":"u","age":8.4,"frac":0.18},{"s":"u","age":8.6,"frac":0.19},{"s":"u","age":8.8,"frac":0.19},{"s":"u","age":9.0,"frac":0.26},{"s":"u","age":9.2,"frac":0.2},{"s":"u","age":9.4,"frac":0.18},{"s":"u","age":9.6,"frac":0.19},{"s":"u","age":9.8,"frac":0.2},{"s":"u","age":9.95,"frac":0.13},{"s":"u","age":10.1,"frac":0.17},{"s":"u","age":10.3,"frac":0.14},{"s":"u","age":10.5,"frac":0.13},{"s":"u","age":10.7,"frac":0.2},{"s":"u","age":10.9,"frac":0.24},{"s":"u","age":11.1,"frac":0.25},{"s":"u","age":11.3,"frac":0.24},{"s":"u","age":11.5,"frac":0.17},{"s":"u","age":11.7,"frac":0.1},{"s":"u","age":11.85,"frac":0.12},{"s":"u","age":12.0,"frac":0.173},{"s":"u","age":12.2,"frac":0.17},{"s":"u","age":12.4,"frac":0.1},{"s":"u","age":12.55,"frac":0.05},{"s":"u","age":12.7,"frac":0.03},{"s":"u","age":12.87,"frac":0.015},
{"s":"v","age":0,"frac":0},{"s":"v","age":5.0,"frac":0},{"s":"v","age":5.5,"frac":0.01},{"s":"v","age":5.9,"frac":0.015},{"s":"v","age":6.1,"frac":0.02},{"s":"v","age":6.3,"frac":0.035},{"s":"v","age":6.5,"frac":0.036},{"s":"v","age":6.7,"frac":0.065},{"s":"v","age":6.9,"frac":0.1},{"s":"v","age":7.1,"frac":0.09},{"s":"v","age":7.3,"frac":0.1},{"s":"v","age":7.5,"frac":0.11},{"s":"v","age":7.7,"frac":0.15},{"s":"v","age":7.9,"frac":0.17},{"s":"v","age":8.1,"frac":0.21},{"s":"v","age":8.3,"frac":0.235},{"s":"v","age":8.5,"frac":0.25},{"s":"v","age":8.79,"frac":0.262},{"s":"v","age":9.0,"frac":0.22},{"s":"v","age":9.2,"frac":0.16},{"s":"v","age":9.4,"frac":0.2},{"s":"v","age":9.6,"frac":0.22},{"s":"v","age":9.75,"frac":0.255},{"s":"v","age":9.95,"frac":0.24},{"s":"v","age":10.15,"frac":0.23},{"s":"v","age":10.35,"frac":0.2},{"s":"v","age":10.55,"frac":0.17},{"s":"v","age":10.75,"frac":0.2},{"s":"v","age":10.95,"frac":0.15},{"s":"v","age":11.15,"frac":0.12},{"s":"v","age":11.35,"frac":0.11},{"s":"v","age":11.5,"frac":0.15},{"s":"v","age":11.62,"frac":0.319},{"s":"v","age":11.75,"frac":0.15},{"s":"v","age":11.95,"frac":0.11},{"s":"v","age":12.15,"frac":0.08},{"s":"v","age":12.35,"frac":0.05},{"s":"v","age":12.55,"frac":0.025},{"s":"v","age":12.87,"frac":0.01},
{"s":"w","age":0,"frac":0},{"s":"w","age":5.5,"frac":0},{"s":"w","age":6.0,"frac":0.01},{"s":"w","age":6.2,"frac":0.015},{"s":"w","age":6.4,"frac":0.02},{"s":"w","age":6.6,"frac":0.025},{"s":"w","age":6.8,"frac":0.035},{"s":"w","age":7.0,"frac":0.045},{"s":"w","age":7.2,"frac":0.048},{"s":"w","age":7.4,"frac":0.06},{"s":"w","age":7.6,"frac":0.065},{"s":"w","age":7.8,"frac":0.1},{"s":"w","age":8.0,"frac":0.105},{"s":"w","age":8.2,"frac":0.14},{"s":"w","age":8.4,"frac":0.17},{"s":"w","age":8.6,"frac":0.19},{"s":"w","age":8.8,"frac":0.19},{"s":"w","age":9.0,"frac":0.2},{"s":"w","age":9.2,"frac":0.16},{"s":"w","age":9.4,"frac":0.18},{"s":"w","age":9.6,"frac":0.185},{"s":"w","age":9.75,"frac":0.258},{"s":"w","age":9.95,"frac":0.25},{"s":"w","age":10.15,"frac":0.23},{"s":"w","age":10.35,"frac":0.2},{"s":"w","age":10.55,"frac":0.165},{"s":"w","age":10.75,"frac":0.19},{"s":"w","age":10.95,"frac":0.14},{"s":"w","age":11.15,"frac":0.09},{"s":"w","age":11.35,"frac":0.12},{"s":"w","age":11.55,"frac":0.09},{"s":"w","age":11.75,"frac":0.1},{"s":"w","age":11.95,"frac":0.08},{"s":"w","age":12.15,"frac":0.05},{"s":"w","age":12.35,"frac":0.035},{"s":"w","age":12.55,"frac":0.02},{"s":"w","age":12.87,"frac":0.008},
{"s":"x","age":0,"frac":0},{"s":"x","age":5.0,"frac":0},{"s":"x","age":5.4,"frac":0.008},{"s":"x","age":5.8,"frac":0.015},{"s":"x","age":6.0,"frac":0.02},{"s":"x","age":6.2,"frac":0.04},{"s":"x","age":6.4,"frac":0.055},{"s":"x","age":6.6,"frac":0.075},{"s":"x","age":6.8,"frac":0.1},{"s":"x","age":6.98,"frac":0.135},{"s":"x","age":7.14,"frac":0.205},{"s":"x","age":7.3,"frac":0.16},{"s":"x","age":7.5,"frac":0.135},{"s":"x","age":7.7,"frac":0.237},{"s":"x","age":7.88,"frac":0.2},{"s":"x","age":8.08,"frac":0.185},{"s":"x","age":8.27,"frac":0.215},{"s":"x","age":8.47,"frac":0.27},{"s":"x","age":8.65,"frac":0.345},{"s":"x","age":8.8,"frac":0.28},{"s":"x","age":9.0,"frac":0.22},{"s":"x","age":9.2,"frac":0.17},{"s":"x","age":9.35,"frac":0.23},{"s":"x","age":9.5,"frac":0.2},{"s":"x","age":9.7,"frac":0.235},{"s":"x","age":9.85,"frac":0.18},{"s":"x","age":10.0,"frac":0.21},{"s":"x","age":10.2,"frac":0.2},{"s":"x","age":10.4,"frac":0.18},{"s":"x","age":10.6,"frac":0.17},{"s":"x","age":10.8,"frac":0.14},{"s":"x","age":10.95,"frac":0.1},{"s":"x","age":11.1,"frac":0.06},{"s":"x","age":11.25,"frac":0.125},{"s":"x","age":11.45,"frac":0.1},{"s":"x","age":11.6,"frac":0.07},{"s":"x","age":11.8,"frac":0.05},{"s":"x","age":12.0,"frac":0.03},{"s":"x","age":12.2,"frac":0.015},{"s":"x","age":12.4,"frac":0.01},{"s":"x","age":12.87,"frac":0.005}
]
},
"vconcat": [
{
 "width": 593, "height": 375,
 "resolve": {"axis": {"x": "independent", "y": "independent"}},
 "layer": [
  {"data": {"name": "p1"}, "mark": {"type": "line", "strokeWidth": 1.3, "clip": true},
   "encoding": {
    "x": {"field": "age", "type": "quantitative", "scale": {"domain": [0, 12.87], "nice": false, "zero": false}, "axis": {"title": "Age of stars [Gyr]", "values": [0,2,4,6,8,10,12], "format": "d", "titlePadding": 0}},
    "y": {"field": "frac", "type": "quantitative", "scale": {"domain": [0, 0.6], "nice": false}, "axis": {"title": "Fraction of disk stars", "values": [0,0.1,0.2,0.3,0.4,0.5,0.6], "format": ".1f", "titlePadding": 0}},
    "color": {"field": "s", "type": "nominal", "legend": null, "scale": {"domain": ["a","b","c","d","e","f","g"], "range": ["#472c7a","#3b518b","#2c718e","#24868e","#1f968b","#35b779","#7ad151"]}}
   }},
  {"data": {"values": [{}]}, "mark": {"type": "rect", "fill": "white", "fillOpacity": 0.5, "stroke": "black", "strokeOpacity": 0.5, "strokeWidth": 1.2, "cornerRadius": 5},
   "encoding": {"x": {"datum": 0.358, "type": "quantitative", "axis": {"orient": "top", "labels": false, "title": null, "values": [0,2,4,6,8,10,12]}}, "x2": {"datum": 7.429}, "y": {"datum": 0.5864, "type": "quantitative", "axis": {"orient": "right", "labels": false, "domain": false, "title": null, "values": [0,0.1,0.2,0.3,0.4,0.5,0.6]}}, "y2": {"datum": 0.5323}}},
  {"data": {"values": [{}]}, "mark": {"type": "rect", "fill": "white", "fillOpacity": 0.5, "stroke": "black", "strokeOpacity": 0.5, "strokeWidth": 1.2, "cornerRadius": 5},
   "encoding": {"x": {"datum": 0.358, "type": "quantitative", "axis": null}, "x2": {"datum": 8.015}, "y": {"datum": 0.516, "type": "quantitative", "axis": null}, "y2": {"datum": 0.4616}}},
  {"data": {"values": [{}]}, "mark": {"type": "text", "align": "left", "baseline": "middle", "fontSize": 21.4, "font": "DejaVu Sans", "color": "black"},
   "encoding": {"x": {"datum": 0.521, "type": "quantitative", "axis": null}, "y": {"datum": 0.5594, "type": "quantitative", "axis": null}, "text": {"value": "log (M⁎/M⊙) (<30kpc) < 10.9"}}},
  {"data": {"values": [{}]}, "mark": {"type": "text", "align": "left", "baseline": "middle", "fontSize": 21.4, "font": "DejaVu Sans", "color": "black"},
   "encoding": {"x": {"datum": 0.521, "type": "quantitative", "axis": null}, "y": {"datum": 0.4888, "type": "quantitative", "axis": null}, "text": {"value": "Mean age of stellar disk < 4Gyr"}}}
 ]
},
{
 "width": 593, "height": 375,
 "resolve": {"axis": {"x": "independent", "y": "independent"}},
 "layer": [
  {"data": {"name": "p2"}, "mark": {"type": "line", "strokeWidth": 1.3, "clip": true},
   "encoding": {
    "x": {"field": "age", "type": "quantitative", "scale": {"domain": [0, 12.87], "nice": false, "zero": false}, "axis": {"title": "Age of stars [Gyr]", "values": [0,2,4,6,8,10,12], "format": "d", "titlePadding": 0}},
    "y": {"field": "frac", "type": "quantitative", "scale": {"domain": [0, 0.6], "nice": false}, "axis": {"title": "Fraction of disk stars", "values": [0,0.1,0.2,0.3,0.4,0.5,0.6], "format": ".1f", "titlePadding": 0}},
    "color": {"field": "s", "type": "nominal", "legend": null, "scale": {"domain": ["h","i","j","k","l","m","n","o","p"], "range": ["#5302a3","#7a02a8","#9e199d","#bf3984","#d6556d","#ec7853","#fb9f3a","#fdc527","#f0f921"]}}
   }},
  {"data": {"values": [{}]}, "mark": {"type": "rect", "fill": "white", "fillOpacity": 0.5, "stroke": "black", "strokeOpacity": 0.5, "strokeWidth": 1.2, "cornerRadius": 5},
   "encoding": {"x": {"datum": 0.358, "type": "quantitative", "axis": {"orient": "top", "labels": false, "title": null, "values": [0,2,4,6,8,10,12]}}, "x2": {"datum": 7.429}, "y": {"datum": 0.5864, "type": "quantitative", "axis": {"orient": "right", "labels": false, "domain": false, "title": null, "values": [0,0.1,0.2,0.3,0.4,0.5,0.6]}}, "y2": {"datum": 0.5323}}},
  {"data": {"values": [{}]}, "mark": {"type": "rect", "fill": "white", "fillOpacity": 0.5, "stroke": "black", "strokeOpacity": 0.5, "strokeWidth": 1.2, "cornerRadius": 5},
   "encoding": {"x": {"datum": 0.358, "type": "quantitative", "axis": null}, "x2": {"datum": 8.015}, "y": {"datum": 0.516, "type": "quantitative", "axis": null}, "y2": {"datum": 0.4616}}},
  {"data": {"values": [{}]}, "mark": {"type": "text", "align": "left", "baseline": "middle", "fontSize": 21.4, "font": "DejaVu Sans", "color": "black"},
   "encoding": {"x": {"datum": 0.521, "type": "quantitative", "axis": null}, "y": {"datum": 0.5594, "type": "quantitative", "axis": null}, "text": {"value": "log (M⁎/M⊙) (<30kpc) < 10.9"}}},
  {"data": {"values": [{}]}, "mark": {"type": "text", "align": "left", "baseline": "middle", "fontSize": 21.4, "font": "DejaVu Sans", "color": "black"},
   "encoding": {"x": {"datum": 0.521, "type": "quantitative", "axis": null}, "y": {"datum": 0.4888, "type": "quantitative", "axis": null}, "text": {"value": "Mean age of stellar disk > 9Gyr"}}}
 ]
},
{
 "width": 593, "height": 375,
 "resolve": {"axis": {"x": "independent", "y": "independent"}},
 "layer": [
  {"data": {"name": "p3"}, "mark": {"type": "line", "strokeWidth": 1.3, "clip": true},
   "encoding": {
    "x": {"field": "age", "type": "quantitative", "scale": {"domain": [0, 12.87], "nice": false, "zero": false}, "axis": {"title": "Age of stars [Gyr]", "values": [0,2,4,6,8,10,12], "format": "d", "titlePadding": 0}},
    "y": {"field": "frac", "type": "quantitative", "scale": {"domain": [0, 0.6], "nice": false}, "axis": {"title": "Fraction of disk stars", "values": [0,0.1,0.2,0.3,0.4,0.5,0.6], "format": ".1f", "titlePadding": 0}},
    "color": {"field": "s", "type": "nominal", "legend": null, "scale": {"domain": ["q","r","s","t","u","v","w","x"], "range": ["#140e36","#3b0f70","#641a80","#8c2981","#b73779","#de4968","#f7705c","#fea16e"]}}
   }},
  {"data": {"values": [{}]}, "mark": {"type": "rect", "fill": "white", "fillOpacity": 0.5, "stroke": "black", "strokeOpacity": 0.5, "strokeWidth": 1.2, "cornerRadius": 5},
   "encoding": {"x": {"datum": 0.358, "type": "quantitative", "axis": {"orient": "top", "labels": false, "title": null, "values": [0,2,4,6,8,10,12]}}, "x2": {"datum": 7.429}, "y": {"datum": 0.5864, "type": "quantitative", "axis": {"orient": "right", "labels": false, "domain": false, "title": null, "values": [0,0.1,0.2,0.3,0.4,0.5,0.6]}}, "y2": {"datum": 0.5323}}},
  {"data": {"values": [{}]}, "mark": {"type": "rect", "fill": "white", "fillOpacity": 0.5, "stroke": "black", "strokeOpacity": 0.5, "strokeWidth": 1.2, "cornerRadius": 5},
   "encoding": {"x": {"datum": 0.358, "type": "quantitative", "axis": null}, "x2": {"datum": 8.015}, "y": {"datum": 0.516, "type": "quantitative", "axis": null}, "y2": {"datum": 0.4616}}},
  {"data": {"values": [{}]}, "mark": {"type": "text", "align": "left", "baseline": "middle", "fontSize": 21.4, "font": "DejaVu Sans", "color": "black"},
   "encoding": {"x": {"datum": 0.521, "type": "quantitative", "axis": null}, "y": {"datum": 0.5594, "type": "quantitative", "axis": null}, "text": {"value": "log (M⁎/M⊙) (<30kpc) > 10.9"}}},
  {"data": {"values": [{}]}, "mark": {"type": "text", "align": "left", "baseline": "middle", "fontSize": 21.4, "font": "DejaVu Sans", "color": "black"},
   "encoding": {"x": {"datum": 0.521, "type": "quantitative", "axis": null}, "y": {"datum": 0.4888, "type": "quantitative", "axis": null}, "text": {"value": "Mean age of stellar disk > 9Gyr"}}}
 ]
}
]
}
